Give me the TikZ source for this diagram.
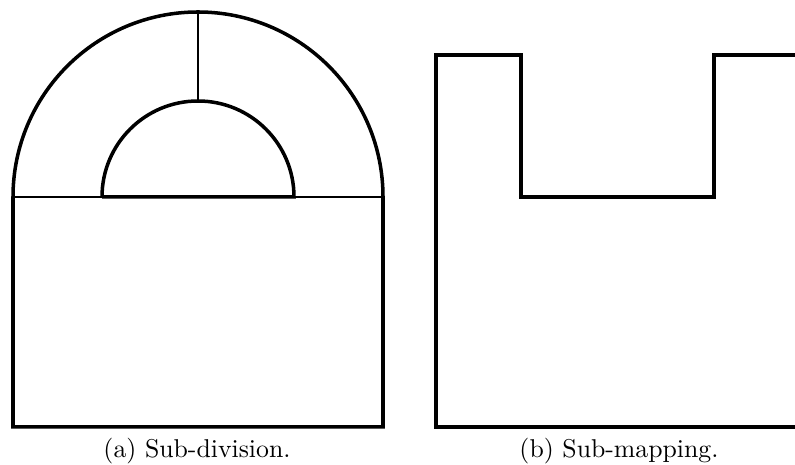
\documentclass[tikz,border=0pt]{standalone}
\usepackage{tikz}

\begin{document}
\begin{tikzpicture}[
    x=0.0135cm, y=0.0135cm,
    bold/.style={line width=1.35pt, line join=miter},
    fine/.style={line width=0.6pt},
    caption/.style={font=\fontsize{9.9}{12}\selectfont, inner sep=0pt}
]
\clip (0,0) rectangle (795,465);

% (a) sub-division
\coordinate (c) at (198,268);
\draw[fine] (13,268) -- (102,268);
\draw[fine] (294,268) -- (383,268);
\draw[fine] (198,453) -- (198,364);
\draw[bold] (13,268) -- (13,38) -- (383,38) -- (383,268)
    arc[start angle=0, end angle=180, radius=185];
\draw[bold] (102,268) -- (294,268)
    arc[start angle=0, end angle=180, radius=96];
\node[caption] (capa) at (197,14) {(a) Sub-division.};

% (b) sub-mapping
\draw[bold] (810,410) -- (714,410) -- (714,268) -- (521,268) -- (521,410)
    -- (436,410) -- (436,38) -- (810,38);
\node[caption] (capb) at (619,14) {(b) Sub-mapping.};

\end{tikzpicture}
\end{document}
